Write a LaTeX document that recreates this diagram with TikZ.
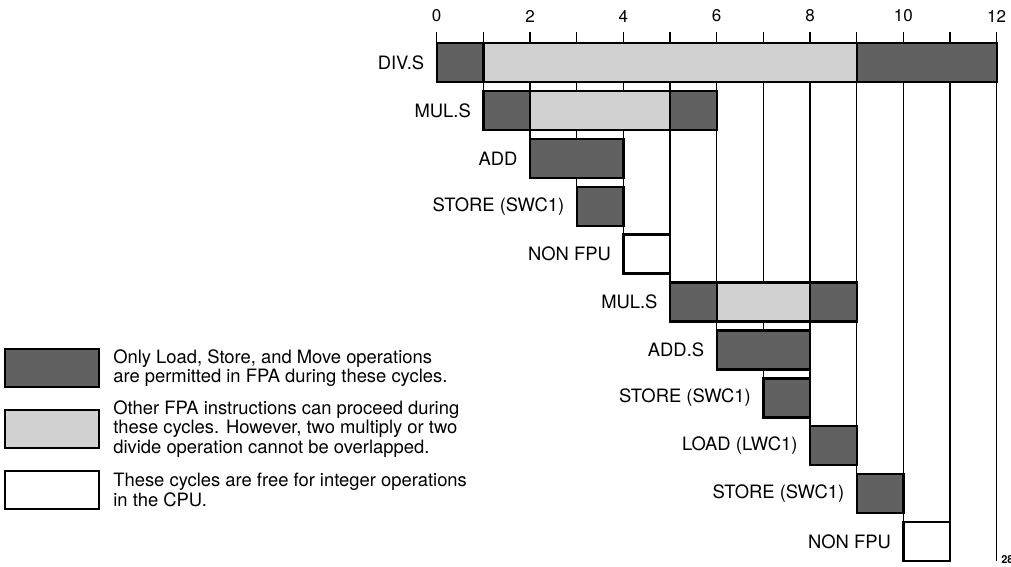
\documentclass[tikz,border=0pt]{standalone}
\usepackage{fontspec}
\setmainfont{TeX Gyre Heros}
\usetikzlibrary{positioning}

\begin{document}
\begin{tikzpicture}[
  x=23.333pt, y=-23.95pt,
  grid/.style={line width=0.7pt},
  bar/.style={draw, line width=1.2pt},
  dk/.style={bar, fill=black!62},
  lt/.style={bar, fill=black!18},
  fr/.style={bar, fill=white},
  lbl/.style={anchor=east, inner sep=0pt, font=\fontsize{9.2pt}{8pt}\selectfont},
  num/.style={inner sep=0pt, font=\fontsize{8.5pt}{8pt}\selectfont},
  key/.style={draw, line width=0.9pt, minimum width=47pt, minimum height=19pt, inner sep=0pt},
  keytext/.style={right=6.5pt of #1, inner sep=0pt, align=left, font=\fontsize{9.2pt}{8pt}\selectfont}
]
\useasboundingbox (-218.35pt,-262pt) rectangle (287.15pt,21.5pt);

\foreach \c in {0,...,10} \draw[grid] (\c,-0.23) -- (\c,\c+0.815);
\foreach \c in {11,12} \draw[grid] (\c,-0.23) -- (\c,10.815);
\foreach \c in {0,2,...,12} \node[num] (n\c) at (\c,-0.564) {\c};

\draw[dk] (0,0) rectangle (1,0.815); \draw[lt] (1,0) rectangle (9,0.815); \draw[dk] (9,0) rectangle (12,0.815);
\draw[dk] (1,1) rectangle (2,1.815); \draw[lt] (2,1) rectangle (5,1.815); \draw[dk] (5,1) rectangle (6,1.815);
\draw[dk] (2,2) rectangle (4,2.815);
\draw[dk] (3,3) rectangle (4,3.815);
\draw[fr] (4,4) rectangle (5,4.815);
\draw[dk] (5,5) rectangle (6,5.815); \draw[lt] (6,5) rectangle (8,5.815); \draw[dk] (8,5) rectangle (9,5.815);
\draw[dk] (6,6) rectangle (8,6.815);
\draw[dk] (7,7) rectangle (8,7.815);
\draw[dk] (8,8) rectangle (9,8.815);
\draw[dk] (9,9) rectangle (10,9.815);
\draw[fr] (10,10) rectangle (11,10.815);

\node[lbl] (div) at (-0.26,0.4075) {DIV.S};
\node[lbl] (mul1) at (0.74,1.4075) {MUL.S};
\node[lbl] (add) at (1.74,2.4075) {ADD};
\node[lbl] (st1) at (2.74,3.4075) {STORE (SWC1)};
\node[lbl] (non1) at (3.74,4.4075) {NON FPU};
\node[lbl] (mul2) at (4.74,5.4075) {MUL.S};
\node[lbl] (adds) at (5.74,6.4075) {ADD.S};
\node[lbl] (st2) at (6.74,7.4075) {STORE (SWC1)};
\node[lbl] (ld) at (7.74,8.4075) {LOAD (LWC1)};
\node[lbl] (st3) at (8.74,9.4075) {STORE (SWC1)};
\node[lbl] (non2) at (9.74,10.4075) {NON FPU};

\node[key, fill=black!62] (kdk) at (-8.243,6.785) {};
\node[keytext=kdk] (tdk) {Only Load, Store, and Move operations\\are permitted in FPA during these cycles.};
\node[key, fill=black!18] (klt) at (-8.243,8.058) {};
\node[keytext=klt] (tlt) {Other FPA instructions can proceed during\\these cycles. However, two multiply or two\\divide operation cannot be overlapped.};
\node[key, fill=white] (kfr) at (-8.243,9.332) {};
\node[keytext=kfr] (tfr) {These cycles are free for integer operations\\in the CPU.};

\node[anchor=base west, inner sep=0pt, font=\fontsize{5.5pt}{6pt}\selectfont\bfseries] (fig) at (12.09,10.86) {28};
\end{tikzpicture}
\end{document}
